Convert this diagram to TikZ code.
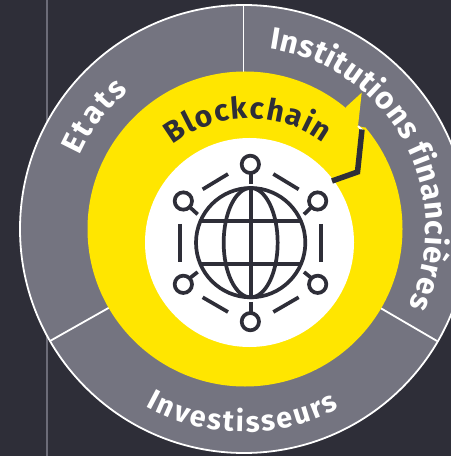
\documentclass[tikz,border=0pt]{standalone}
\usepackage{fontspec}
\setmainfont{Fira Sans}
\usetikzlibrary{decorations.text}
\definecolor{bgdark}{HTML}{2E2E38}
\definecolor{ringgray}{HTML}{747480}
\definecolor{eyyellow}{HTML}{FFE600}
\definecolor{rulegray}{HTML}{6C6C78}
\tikzset{
  x=1bp,y=1bp,
  divider/.style={draw=white,line width=1.8bp},
  icon/.style={draw=bgdark,line width=3.7bp,line cap=butt},
  curvedtext/.style={decorate,decoration={text along path,text={#1},text align=fit to path}}
}
\begin{document}
\begin{tikzpicture}
\useasboundingbox (0,0) rectangle (451,-456);
\fill[bgdark] (0,0) rectangle (451,-456);
\coordinate (C) at (244,-229);
\coordinate (W) at (249.5,-242.5);
\coordinate (ruletop) at (47,0);
\coordinate (rulebot) at (47,-456);
\draw[rulegray,line width=1.6bp] (ruletop) -- (rulebot);
% outer ring
\path[fill=ringgray,draw=white,line width=1.8bp] (C) circle[radius=224];
\coordinate (t1) at (243.5,-5);   \coordinate (t2) at (243.5,-75);
\coordinate (l1) at (50,-341);    \coordinate (l2) at (112,-306);
\coordinate (r1) at (437,-341);   \coordinate (r2) at (377,-306);
\draw[divider] (t1) -- (t2);
\draw[divider] (l1) -- (l2);
\draw[divider] (r1) -- (r2);
% yellow disc with callout tip
\fill[eyyellow] (245,-229) circle[radius=157.5];
\coordinate (a1) at (346,-107);
\coordinate (a2) at (361.7,-92.7);
\coordinate (a3) at (358,-126);
\coordinate (a4) at (365,-127.5);
\fill[ringgray] (a3) -- (350,-100) -- (372,-110) -- (a4) -- cycle;
\fill[eyyellow] (a1) -- (a2) -- (a3) -- (340,-140) -- cycle;
\coordinate (b0) at (358,-126);
\coordinate (b1) at (364,-132);
\draw[white,line width=1.8bp] (b0) -- (b1);
% white disc
\fill[white] (W) circle[radius=104.5];
% pointer
\coordinate (p1) at (362,-129.5);
\coordinate (p2) at (357.5,-172);
\coordinate (p3) at (332,-181);
\draw[bgdark,line width=5.5bp,line join=miter] (p1) -- (p2) -- (p3);
% globe icon, local coordinates in zoom units
\begin{scope}[shift={(150,-140)},x=0.33333bp,y=-0.33333bp]
  \draw[icon] (302,308) circle[radius=164];
  \draw[icon] (302,308) ellipse[x radius=81,y radius=164];
  \draw[icon] (302,142) -- (302,474);
  \draw[icon] (148,243) -- (456,243);
  \draw[icon] (148,372) -- (456,372);
  \draw[icon] (301,73) circle[radius=26];
  \draw[icon] (301,545) circle[radius=26];
  \draw[icon] (100,183) circle[radius=26];
  \draw[icon] (503,183) circle[radius=26];
  \draw[icon] (100,433) circle[radius=26];
  \draw[icon] (503,433) circle[radius=26];
  \draw[icon] (302,99) -- (302,132);
  \draw[icon] (302,486) -- (302,519);
  \draw[icon] (120,202) -- (143,223);
  \draw[icon] (484,202) -- (462,223);
  \draw[icon] (120,414) -- (143,396);
  \draw[icon] (484,414) -- (462,396);
  \draw[icon] (158,148) -- (234,102);
  \draw[icon] (370,102) -- (446,148);
  \draw[icon] (90,252) -- (90,366);
  \draw[icon] (513,252) -- (513,366);
  \draw[icon] (158,472) -- (234,516);
  \draw[icon] (370,516) -- (446,472);
\end{scope}
% curved labels
\path[curvedtext={|\fontsize{31bp}{31bp}\bfseries\color{white}|Etats}]
  (C) ++(156:180) arc[start angle=156,end angle=130,radius=180];
\path[curvedtext={|\fontsize{31bp}{31bp}\bfseries\color{white}|Institutions financières}]
  (C) ++(82:182) arc[start angle=82,end angle=-25,radius=182];
\path[curvedtext={|\fontsize{29bp}{29bp}\bfseries\color{white}|Investisseurs}]
  (C) ++(241:203) arc[start angle=241,end angle=298,radius=203];
\path[curvedtext={|\fontsize{30bp}{30bp}\bfseries\color{bgdark}|Blockchain}]
  (W) ++(128:124) arc[start angle=128,end angle=53.5,radius=124];
\end{tikzpicture}
\end{document}
